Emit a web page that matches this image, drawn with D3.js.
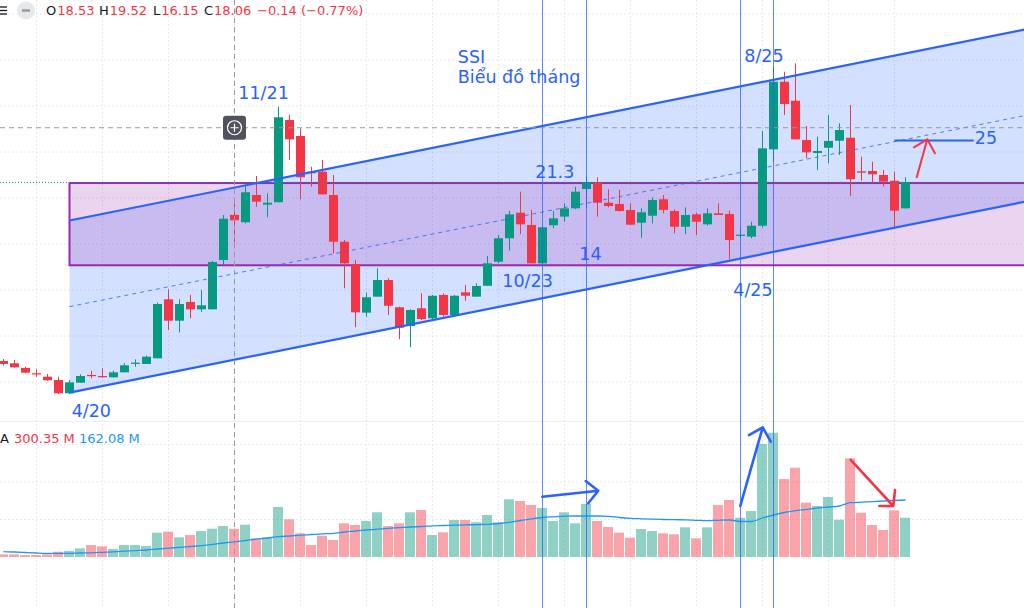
<!DOCTYPE html>
<html>
<head>
<meta charset="utf-8">
<script src="https://cdn.jsdelivr.net/npm/d3@7"></script>
<style>
  html, body { margin: 0; padding: 0; background: #fff; }
  svg { display: block; font-family: "DejaVu Sans", sans-serif; }
</style>
</head>
<body>
<div class="chart-container"></div>
<script>
// SSI monthly candles, Oct 2019 .. Aug 2026 (one entry per month)
const months = d3.timeMonth.range(new Date(2019, 9, 1), new Date(2026, 8, 1));

const open_vals = [5.83, 5.63, 5.22, 4.76, 4.46, 4.17, 3.02, 3.94, 4.61, 4.52,
  4.41, 4.84, 5.57, 5.57, 6.06, 11.19, 9.33, 10.96, 10.32, 10.32,
  14.61, 18.53, 17.89, 20.26, 19.42, 19.63, 26.78, 25.39, 22.29, 22.29,
  20.26, 16.20, 14.26, 10.03, 11.42, 12.87, 10.50, 8.87, 10.41, 9.54,
  11.57, 9.83, 11.80, 11.42, 12.37, 14.46, 16.50, 18.72, 17.65, 14.32,
  17.63, 18.38, 19.10, 20.78, 21.36, 19.59, 19.48, 18.96, 17.85, 18.46,
  19.89, 18.87, 17.50, 18.58, 17.71, 18.67, 18.61, 16.72, 16.64, 17.59,
  24.23, 30.11, 28.46, 25.04, 23.91, 24.37, 24.98, 25.24, 22.32, 22.35,
  22.00, 21.50, 19.10];
const high_vals = [6.00, 5.91, 5.33, 5.10, 4.70, 4.46, 4.17, 4.67, 4.98, 5.19,
  4.98, 5.63, 5.97, 6.29, 10.90, 12.06, 11.19, 11.57, 12.00, 14.52,
  18.52, 19.52, 21.13, 21.91, 20.41, 27.94, 27.22, 26.06, 22.72, 23.30,
  22.00, 16.35, 14.61, 11.77, 13.89, 13.02, 10.55, 10.32, 11.71, 11.57,
  11.71, 11.57, 12.43, 12.58, 14.96, 16.78, 18.90, 20.55, 18.96, 17.50,
  18.87, 19.54, 20.98, 21.91, 21.80, 20.76, 20.70, 19.54, 19.10, 20.06,
  20.26, 19.02, 19.19, 18.72, 19.10, 19.54, 18.90, 17.42, 17.94, 25.83,
  31.42, 30.98, 31.71, 26.26, 25.33, 27.22, 26.50, 28.09, 23.59, 23.16,
  22.43, 22.29, 21.80];
const low_vals = [5.43, 5.25, 4.75, 4.46, 4.11, 2.96, 2.96, 3.94, 4.32, 4.37,
  4.37, 4.84, 5.33, 5.57, 6.06, 8.52, 8.32, 9.54, 10.09, 10.32,
  14.17, 16.15, 17.80, 19.24, 18.32, 19.63, 23.30, 19.89, 20.98, 20.26,
  15.19, 12.15, 8.76, 9.68, 11.42, 9.83, 7.71, 7.02, 9.39, 9.45,
  9.68, 9.74, 11.07, 11.42, 12.37, 14.32, 15.42, 16.87, 14.32, 14.32,
  17.37, 17.94, 19.02, 19.10, 18.37, 19.19, 18.81, 17.63, 16.55, 17.80,
  18.67, 16.93, 16.87, 16.78, 17.59, 18.52, 14.67, 16.52, 16.50, 17.42,
  23.16, 27.22, 25.10, 23.45, 22.43, 23.02, 23.74, 20.17, 21.50, 21.28,
  20.98, 17.45, 19.10];
const close_vals = [5.57, 5.28, 4.81, 4.67, 4.15, 3.02, 3.97, 4.52, 4.52, 4.41,
  4.84, 5.45, 5.68, 6.20, 10.78, 9.33, 10.78, 10.32, 10.67, 14.43,
  18.20, 18.06, 20.50, 19.68, 19.59, 27.02, 25.10, 21.80, 22.15, 20.32,
  16.20, 14.32, 10.06, 11.37, 12.87, 10.63, 8.72, 10.26, 9.48, 11.50,
  9.83, 11.50, 11.50, 12.35, 14.32, 16.50, 18.58, 17.71, 14.32, 17.45,
  18.23, 19.10, 20.55, 21.36, 19.59, 19.30, 18.87, 17.68, 18.76, 19.83,
  18.96, 17.50, 18.52, 17.94, 18.67, 18.52, 16.35, 16.81, 17.59, 24.32,
  30.11, 28.17, 25.10, 23.97, 24.09, 24.96, 25.91, 21.63, 22.20, 22.06,
  21.42, 18.90, 21.36];

// volume in millions, and its moving average
const volume_vals = [28.8, 28.8, 21.3, 21.3, 28.8, 56.5, 64, 92.8, 128, 114.1,
  85.3, 128, 128, 117.3, 259.2, 269.9, 210.1, 234.7, 277.3, 301.9,
  330.7, 300.35, 344.5, 199.5, 210.1, 533.3, 402.1, 252.8, 128, 227.2,
  181.3, 359.5, 341.3, 384, 476.8, 330.7, 359.5, 476.8, 501.3, 234.7,
  263.5, 394.7, 394.7, 370.1, 448, 370.1, 615.5, 597.3, 554.7, 522.7,
  384, 476.8, 359.5, 565.3, 384, 320, 259.2, 205.9, 298.7, 277.3,
  252.8, 242.1, 316.8, 199.5, 316.8, 554.7, 608, 419.2, 490.7, 1205.4,
  1325.9, 832, 952.6, 579.2, 544, 640, 397.9, 1052.8, 472.5, 341.3,
  288, 498.1, 419.2];
const volume_ma = [56.5, 53.3, 48, 42.7, 39.5, 39.5, 39.5, 42.7, 44.8, 50.1,
  55.5, 61.9, 68.3, 74.7, 85.3, 93.9, 103.5, 112, 120.5, 135.5,
  149.3, 162.08, 176, 189.9, 202.7, 216.5, 224, 232.5, 240, 247.5,
  252.8, 266.7, 277.3, 288, 296.5, 306.1, 312.5, 320, 325.3, 332.8,
  336, 339.2, 342.4, 345.6, 348.8, 357.3, 370.1, 389.3, 407.5, 421.3,
  428.8, 435.2, 437.3, 437.3, 437.3, 434.1, 421.3, 412.8, 407.5, 403.2,
  400, 397.9, 396.8, 391.5, 387.2, 391.5, 394.7, 378.7, 378.7, 416,
  448, 474.7, 493.9, 508.8, 522.7, 533.3, 544, 579.2, 584.5, 590.9,
  597.3, 602.7, 608];

const price_ticks = [4, 8, 12, 16, 20, 24, 28, 32, 36];
const volume_ticks = [400, 800, 1200];

// drawings, as [month index, price] or [month index, volume]
const channel_lower = [[6, 3.07], [93, 19.71]];
const channel_upper = [[6, 18.04], [93, 34.68]];
const range_box = {start: 6, top: 21.3, bottom: 14.15};
const marker_months = [49, 53, 67, 70];
const level_25 = [[81, 25], [88.2, 25]];
const price_arrow = {from: [83.02, 21.8], to: [83.98, 25.1], heads: [[82.77, 24.41], [84.68, 23.89]]};
const volume_arrows = [
  {from: [48.98, 643], to: [54.07, 707], heads: [[52.93, 810], [53.16, 573]], color: '#2962ff'},
  {from: [66.98, 544], to: [69.02, 1383], heads: [[67.77, 1301], [69.75, 1230]], color: '#2962ff'},
  {from: [77.02, 1035], to: [80.89, 544], heads: [[81.05, 715], [79.62, 544]], color: '#f23645'},
];
const text_labels = [
  {text: '4/20', i: 6.2, p: 0.98},
  {text: '11/21', i: 21.35, p: 28.58},
  {text: 'SSI', i: 41.3, p: 31.71},
  {text: 'Biểu đồ tháng', i: 41.3, p: 29.97},
  {text: '8/25', i: 67.35, p: 31.85},
  {text: '21.3', i: 48.35, p: 21.71},
  {text: '14', i: 52.35, p: 14.61},
  {text: '10/23', i: 45.35, p: 12.23},
  {text: '4/25', i: 66.35, p: 11.48},
  {text: '25', i: 88.3, p: 24.70},
];
const cross_index = 21;
const cross_price = 26.11;

const green = '#089981';
const red = '#f23645';
const blue = '#2962ff';

function prepare_candles() {
  return months.map((m, i) => ({
    date: m, i: i,
    open: open_vals[i], high: high_vals[i], low: low_vals[i], close: close_vals[i],
    volume: volume_vals[i], ma: volume_ma[i],
    up: close_vals[i] >= open_vals[i],
  }));
}

function build_scales() {
  const x = d3.scaleLinear().domain([0, months.length - 1]).range([3.5, 3.5 + 11 * (months.length - 1)]);
  const y = d3.scaleLinear().domain([0, 36]).range([428, 14]);
  const yv = d3.scaleLinear().domain([0, 1200]).range([557, 444.5]);
  return {x, y, yv};
}

function build_svg() {
  const svg = d3.select('.chart-container').append('svg')
    .attr('width', 1024).attr('height', 608);
  svg.append('rect').attr('width', 1024).attr('height', 608).attr('fill', '#fff');
  const defs = svg.append('defs');
  defs.append('clipPath').attr('id', 'price-clip')
    .append('rect').attr('x', 0).attr('y', 0).attr('width', 1024).attr('height', 421);
  return svg;
}

function draw_grid(svg, s) {
  const g = svg.append('g').attr('class', 'grid')
    .attr('stroke', '#dfe2e8').attr('stroke-dasharray', '1.5,2.5');
  const grid_months = months.map((m, i) => ({m, i})).filter(d => d.m.getMonth() % 6 === 0);
  g.selectAll('.vgrid').data(grid_months).enter().append('line')
    .attr('x1', d => s.x(d.i)).attr('x2', d => s.x(d.i))
    .attr('y1', 0).attr('y2', 608);
  g.selectAll('.hgrid').data(price_ticks).enter().append('line')
    .attr('x1', 0).attr('x2', 1024)
    .attr('y1', d => s.y(d)).attr('y2', d => s.y(d));
  g.selectAll('.vol-grid').data(volume_ticks).enter().append('line')
    .attr('x1', 0).attr('x2', 1024)
    .attr('y1', d => s.yv(d)).attr('y2', d => s.yv(d));
  svg.append('line').attr('x1', 0).attr('x2', 1024).attr('y1', 421.5).attr('y2', 421.5)
    .attr('stroke', '#eceef2');
}

function draw_zones(svg, s) {
  const g = svg.append('g').attr('clip-path', 'url(#price-clip)');
  const poly = [channel_lower[0], channel_lower[1], channel_upper[1], channel_upper[0]];
  g.append('path')
    .attr('d', 'M' + poly.map(d => [s.x(d[0]), s.y(d[1])].join(',')).join('L') + 'Z')
    .attr('fill', 'rgba(41,98,255,0.2)');
  const x0 = s.x(range_box.start);
  g.append('rect')
    .attr('x', x0).attr('y', s.y(range_box.top))
    .attr('width', 1030 - x0).attr('height', s.y(range_box.bottom) - s.y(range_box.top))
    .attr('fill', 'rgba(156,39,176,0.2)')
    .attr('stroke', '#9c27b0').attr('stroke-width', 2);
}

function draw_candles(svg, s, candles) {
  const g = svg.append('g').attr('class', 'candles').attr('clip-path', 'url(#price-clip)');
  g.selectAll('.wick').data(candles).enter().append('line')
    .attr('x1', d => s.x(d.i)).attr('x2', d => s.x(d.i))
    .attr('y1', d => s.y(d.high)).attr('y2', d => s.y(d.low))
    .attr('stroke', d => d.up ? green : red).attr('stroke-width', 1);
  g.selectAll('.body').data(candles).enter().append('rect')
    .attr('x', d => s.x(d.i) - 4.5).attr('width', 9)
    .attr('y', d => s.y(Math.max(d.open, d.close)))
    .attr('height', d => Math.max(1.2, Math.abs(s.y(d.open) - s.y(d.close))))
    .attr('fill', d => d.up ? green : red);
}

function draw_channel_lines(svg, s) {
  const g = svg.append('g').attr('clip-path', 'url(#price-clip)');
  const line = d3.line().x(d => s.x(d[0])).y(d => s.y(d[1]));
  [channel_lower, channel_upper].forEach(pts => {
    g.append('path').attr('d', line(pts)).attr('fill', 'none')
      .attr('stroke', blue).attr('stroke-width', 2.2);
  });
  const mid = channel_lower.map((d, k) => [d[0], (d[1] + channel_upper[k][1]) / 2]);
  g.append('path').attr('d', line(mid)).attr('fill', 'none')
    .attr('stroke', blue).attr('stroke-width', 1).attr('stroke-dasharray', '4,4').attr('opacity', 0.8);
  // last price line
  const last = close_vals[close_vals.length - 1];
  g.append('line').attr('x1', 0).attr('x2', 1024)
    .attr('y1', s.y(last)).attr('y2', s.y(last))
    .attr('stroke', green).attr('stroke-dasharray', '1,2');
}

function draw_volume(svg, s, candles) {
  const g = svg.append('g').attr('class', 'volume');
  g.selectAll('.vol').data(candles).enter().append('rect')
    .attr('x', d => s.x(d.i) - 5.5).attr('width', 10)
    .attr('y', d => s.yv(d.volume))
    .attr('height', d => s.yv(0) - s.yv(d.volume))
    .attr('fill', d => d.up ? 'rgba(8,153,129,0.45)' : 'rgba(242,54,69,0.45)');
  const ma_line = d3.line().x(d => s.x(d.i)).y(d => s.yv(d.ma)).curve(d3.curveMonotoneX);
  g.append('path').attr('d', ma_line(candles)).attr('fill', 'none')
    .attr('stroke', '#2196f3').attr('stroke-width', 1.3);
}

function draw_markers(svg, s) {
  svg.append('g').selectAll('line').data(marker_months).enter().append('line')
    .attr('x1', d => s.x(d)).attr('x2', d => s.x(d))
    .attr('y1', 0).attr('y2', 608)
    .attr('stroke', blue).attr('stroke-width', 1).attr('opacity', 0.75);
}

function draw_arrow(g, a, xs, ys, width) {
  const p = d => [xs(d[0]), ys(d[1])];
  g.append('path')
    .attr('d', `M${p(a.from)}L${p(a.to)}M${p(a.heads[0])}L${p(a.to)}L${p(a.heads[1])}`)
    .attr('fill', 'none').attr('stroke', a.color || red).attr('stroke-width', width)
    .attr('stroke-linecap', 'round').attr('stroke-linejoin', 'round');
}

function draw_annotations(svg, s) {
  const g = svg.append('g').attr('class', 'drawings');
  g.append('line')
    .attr('x1', s.x(level_25[0][0])).attr('x2', s.x(level_25[1][0]))
    .attr('y1', s.y(level_25[0][1])).attr('y2', s.y(level_25[1][1]))
    .attr('stroke', blue).attr('stroke-width', 2);
  draw_arrow(g, price_arrow, s.x, s.y, 2);
  volume_arrows.forEach(a => draw_arrow(g, a, s.x, s.yv, 2.6));
  g.selectAll('.label').data(text_labels).enter().append('text')
    .attr('x', d => s.x(d.i)).attr('y', d => s.y(d.p))
    .text(d => d.text)
    .style('font-size', '17.5px')
    .style('fill', blue);
}

function draw_crosshair(svg, s) {
  const g = svg.append('g').attr('class', 'crosshair');
  const cx = s.x(cross_index), cy = s.y(cross_price);
  g.append('line').attr('x1', cx).attr('x2', cx).attr('y1', 0).attr('y2', 608)
    .attr('stroke', '#9598a1').attr('stroke-dasharray', '5,4');
  g.append('line').attr('x1', 0).attr('x2', 1024).attr('y1', cy).attr('y2', cy)
    .attr('stroke', '#9598a1').attr('stroke-dasharray', '5,4');
  g.append('rect').attr('x', cx - 11.5).attr('y', cy - 12).attr('width', 23).attr('height', 24)
    .attr('rx', 3).attr('fill', '#50535e');
  g.append('circle').attr('cx', cx).attr('cy', cy).attr('r', 7)
    .attr('fill', 'none').attr('stroke', '#fff').attr('stroke-width', 1.2);
  g.append('path').attr('d', `M${cx - 4},${cy}H${cx + 4}M${cx},${cy - 4}V${cy + 4}`)
    .attr('stroke', '#fff').attr('stroke-width', 1.2);
}

function draw_legend(svg, candles) {
  const c = candles[cross_index];
  const prev = candles[cross_index - 1].close;
  const change = c.close - prev;
  const fmt = d3.format('.2f');
  const minus = v => (v < 0 ? '\u2212' : '') + fmt(Math.abs(v));
  const g = svg.append('g').style('font-size', '13px');
  // menu icon and collapse button
  [7, 10.5, 14].forEach(yy => g.append('line').attr('x1', -1).attr('x2', 7)
    .attr('y1', yy).attr('y2', yy).attr('stroke', '#131722').attr('stroke-width', 1.3));
  g.append('circle').attr('cx', 26).attr('cy', 10.5).attr('r', 9).attr('fill', '#e6e8ec');
  g.append('line').attr('x1', 22).attr('x2', 30).attr('y1', 10.5).attr('y2', 10.5)
    .attr('stroke', '#9598a1').attr('stroke-width', 2.4);
  const col = c.up ? green : red;
  const items = [
    {k: 'O', v: fmt(c.open), x: 46},
    {k: 'H', v: fmt(c.high), x: 99},
    {k: 'L', v: fmt(c.low), x: 153},
    {k: 'C', v: fmt(c.close), x: 204},
  ];
  items.forEach(d => {
    const t = g.append('text').attr('x', d.x).attr('y', 15);
    t.append('tspan').text(d.k).style('fill', '#131722');
    t.append('tspan').attr('dx', 1).text(d.v).style('fill', col);
  });
  g.append('text').attr('x', 257).attr('y', 15).style('fill', col)
    .text(`${minus(change)} (${minus(change / prev * 100)}%)`);
  // volume legend
  const v = svg.append('g').style('font-size', '13px');
  v.append('text').attr('x', 0).attr('y', 443).style('fill', '#131722').text('A');
  v.append('text').attr('x', 14).attr('y', 443).style('fill', red).text(fmt(c.volume) + ' M');
  v.append('text').attr('x', 79).attr('y', 443).style('fill', '#2196f3').text(fmt(c.ma) + ' M');
}

function chart_main() {
  const candles = prepare_candles();
  const s = build_scales();
  const svg = build_svg();
  draw_grid(svg, s);
  draw_zones(svg, s);
  draw_volume(svg, s, candles);
  draw_candles(svg, s, candles);
  draw_channel_lines(svg, s);
  draw_markers(svg, s);
  draw_crosshair(svg, s);
  draw_annotations(svg, s);
  draw_legend(svg, candles);
}

chart_main();
</script>
</body>
</html>
